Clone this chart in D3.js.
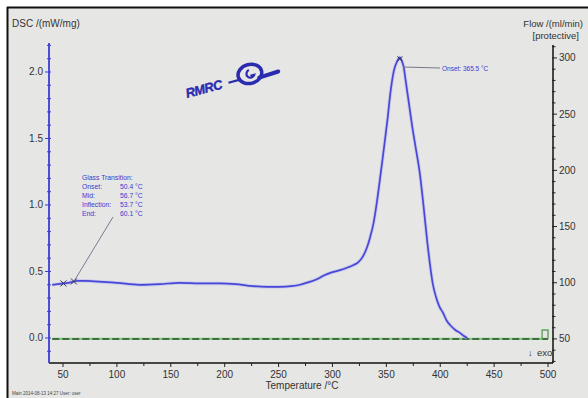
<!DOCTYPE html>
<html>
<head>
<meta charset="utf-8">
<script src="https://cdn.jsdelivr.net/npm/d3@7"></script>
<style>
  html, body { margin: 0; padding: 0; background: #ffffff; }
  svg { display: block; }
  text { font-family: "Liberation Sans", Arial, sans-serif; }
</style>
</head>
<body>
<svg id="chart" width="588" height="398"></svg>
<script>
// DSC heat-flow curve (mW/mg) against temperature (°C)
const dscTemp = [40, 45, 50, 55, 60, 63, 70, 80, 100, 121, 140, 158, 180, 196, 210, 226, 240, 251, 262, 270,
  278, 285, 292, 298, 307, 314, 320, 324, 328, 332, 335, 338, 341, 344, 347, 351, 354, 357, 360, 362.5,
  364, 366, 368, 371, 374, 377, 381, 384, 388, 391, 393, 396, 399, 402.5, 406, 410, 414, 418, 422, 425];
const dscValue = [0.40, 0.405, 0.41, 0.415, 0.425, 0.43, 0.43, 0.425, 0.415, 0.40, 0.405, 0.415, 0.41, 0.41, 0.405, 0.39, 0.385, 0.385, 0.39, 0.40,
  0.42, 0.44, 0.47, 0.49, 0.51, 0.53, 0.55, 0.57, 0.61, 0.68, 0.76, 0.86, 1.01, 1.19, 1.38, 1.64, 1.86, 2.01, 2.08, 2.11,
  2.09, 2.04, 1.93, 1.76, 1.59, 1.44, 1.24, 1.03, 0.72, 0.52, 0.41, 0.31, 0.24, 0.19, 0.13, 0.09, 0.06, 0.04, 0.015, 0.0];

// Protective gas flow (ml/min)
const flowTemp = [40, 500];
const flowValue = [50, 50];
const flowEndTemp = [494.5, 494.5, 500, 500];
const flowEndValue = [50, 58, 58, 50];

// Axis ticks
const tempTicks = [50, 100, 150, 200, 250, 300, 350, 400, 450, 500];
const dscTicks = [0.0, 0.5, 1.0, 1.5, 2.0];
const flowTicks = [50, 100, 150, 200, 250, 300];

// Evaluation results
const glassLabels = ["Onset:", "Mid:", "Inflection:", "End:"];
const glassValues = [50.4, 56.7, 53.7, 60.1];
const peakOnset = 365.5;

const svg = d3.select("#chart");
const W = 588, H = 398;

// panel background and frame
svg.append("rect").attr("x", 8).attr("y", 8).attr("width", W - 8).attr("height", H - 8).attr("fill", "#e6e6e4");
svg.append("line").attr("x1", 7).attr("x2", W).attr("y1", 7.5).attr("y2", 7.5).attr("stroke", "#111").attr("stroke-width", 2);
svg.append("line").attr("x1", 7.5).attr("x2", 7.5).attr("y1", 7).attr("y2", H).attr("stroke", "#111").attr("stroke-width", 2);

const plotL = 49, plotR = 553, plotT = 43, plotB = 363;
const x = d3.scaleLinear().domain([37, 504.6]).range([plotL, plotR]);
const y = d3.scaleLinear().domain([-0.188, 2.218]).range([plotB, plotT]);
const yFlow = d3.scaleLinear().domain([28.6, 313.3]).range([plotB, plotT]);

const tickFont = "10px";
const labelColor = "#333";

// bottom axis
const xAxis = svg.append("g").attr("transform", `translate(0,${plotB})`);
xAxis.append("line").attr("x1", plotL).attr("x2", plotR).attr("stroke", "#111").attr("stroke-width", 1.5);
xAxis.selectAll(".minor").data(d3.range(50, 501, 25)).join("line")
  .attr("x1", d => x(d)).attr("x2", d => x(d)).attr("y1", 0).attr("y2", d => d % 50 === 0 ? 4 : 3)
  .attr("stroke", "#222").attr("stroke-width", 1);
xAxis.selectAll("text").data(tempTicks).join("text")
  .attr("x", d => x(d)).attr("y", 15).attr("text-anchor", "middle")
  .attr("font-size", tickFont).attr("fill", labelColor).text(d => d);

// left axis (DSC)
const yAxis = svg.append("g");
yAxis.append("line").attr("x1", plotL).attr("x2", plotL).attr("y1", plotT).attr("y2", plotB)
  .attr("stroke", "#3c3cd8").attr("stroke-width", 1.8);
yAxis.selectAll(".minor").data(d3.range(-1, 23).map(d => d / 10)).join("line")
  .attr("x1", d => plotL - (Math.abs(d * 2 - Math.round(d * 2)) < 1e-6 ? 4 : 2)).attr("x2", plotL + 2)
  .attr("y1", d => y(d)).attr("y2", d => y(d)).attr("stroke", "#3c3cd8").attr("stroke-width", 1);
yAxis.selectAll("text").data(dscTicks).join("text")
  .attr("x", plotL - 6).attr("y", d => y(d) + 3.5).attr("text-anchor", "end")
  .attr("font-size", tickFont).attr("fill", labelColor).text(d => d.toFixed(1));

// right axis (flow)
const rAxis = svg.append("g");
rAxis.append("line").attr("x1", plotR).attr("x2", plotR).attr("y1", 45).attr("y2", plotB)
  .attr("stroke", "#111").attr("stroke-width", 1.5);
rAxis.selectAll(".minor").data(d3.range(30, 311, 10)).join("line")
  .attr("x1", plotR - 1).attr("x2", d => plotR + (d % 50 === 0 ? 4 : 2.5))
  .attr("y1", d => yFlow(d)).attr("y2", d => yFlow(d)).attr("stroke", "#222").attr("stroke-width", 1);
rAxis.selectAll("text").data(flowTicks).join("text")
  .attr("x", plotR + 6).attr("y", d => yFlow(d) + 3.5)
  .attr("font-size", tickFont).attr("fill", labelColor).text(d => d);

// axis titles
svg.append("text").attr("x", 12).attr("y", 27).attr("font-size", "10px").attr("fill", "#333").text("DSC /(mW/mg)");
svg.append("text").attr("x", 583).attr("y", 27).attr("text-anchor", "end").attr("font-size", "9.5px").attr("fill", "#333").text("Flow /(ml/min)");
svg.append("text").attr("x", 579).attr("y", 39).attr("text-anchor", "end").attr("font-size", "9.5px").attr("fill", "#333").text("[protective]");
svg.append("text").attr("x", 302).attr("y", 389).attr("text-anchor", "middle").attr("font-size", "10px").attr("fill", "#333").text("Temperature /°C");
svg.append("text").attr("x", 528).attr("y", 356).attr("font-size", "9px").attr("fill", "#333").text("↓");
svg.append("text").attr("x", 537).attr("y", 356).attr("font-size", "9.5px").attr("fill", "#333").text("exo");
svg.append("text").attr("x", 12).attr("y", 395).attr("font-size", "4.5px").attr("fill", "#444")
  .text("Main   2014-08-13 14:27      User: user");

// flow line: light green with dark dashes on top
const flowLine = d3.line().x(d => x(d[0])).y(d => yFlow(d[1]));
const flowPts = d3.zip(flowTemp, flowValue);
svg.append("path").attr("d", flowLine(flowPts)).attr("fill", "none").attr("stroke", "#7fcf7f").attr("stroke-width", 2.2);
svg.append("path").attr("d", flowLine(flowPts)).attr("fill", "none").attr("stroke", "#2f4f2f")
  .attr("stroke-width", 1.6).attr("stroke-dasharray", "7,3");
svg.append("path").attr("d", flowLine(d3.zip(flowEndTemp, flowEndValue))).attr("fill", "none")
  .attr("stroke", "#5fa05f").attr("stroke-width", 1.4);

// DSC curve
const dscLine = d3.line().x(d => x(d[0])).y(d => y(d[1])).curve(d3.curveMonotoneX);
const dscPts = d3.zip(dscTemp, dscValue);
svg.append("path").attr("d", dscLine(dscPts)).attr("fill", "none").attr("stroke", "#b8b8f0").attr("stroke-width", 3.5).attr("opacity", 0.6);
svg.append("path").attr("d", dscLine(dscPts)).attr("fill", "none").attr("stroke", "#4848d6").attr("stroke-width", 1.7);

// glass transition evaluation
const blue = "#3a3ad0";
const gx = 82, gy = 180;
svg.append("text").attr("x", gx).attr("y", gy).attr("font-size", "6.8px").attr("fill", blue).text("Glass Transition:");
glassLabels.forEach((lab, i) => {
  svg.append("text").attr("x", gx).attr("y", gy + 9 * (i + 1)).attr("font-size", "6.8px").attr("fill", blue).text(lab);
  svg.append("text").attr("x", gx + 38).attr("y", gy + 9 * (i + 1)).attr("font-size", "6.8px").attr("fill", blue)
    .text(glassValues[i].toFixed(1) + " °C");
});
const interp = t => {
  const i = d3.bisectLeft(dscTemp, t);
  if (i <= 0) return dscValue[0];
  const t0 = dscTemp[i - 1], t1 = dscTemp[i];
  return dscValue[i - 1] + (dscValue[i] - dscValue[i - 1]) * (t - t0) / (t1 - t0);
};
const gEnd = glassValues[3];
svg.append("line").attr("x1", 113).attr("y1", 217).attr("x2", x(gEnd)).attr("y2", y(interp(gEnd)))
  .attr("stroke", "#7a7a96").attr("stroke-width", 1);
[glassValues[0], glassValues[3]].forEach(t => {
  const cx = x(t), cy = y(interp(t));
  svg.append("path").attr("d", `M${cx - 3},${cy - 3}L${cx + 3},${cy + 3}M${cx - 3},${cy + 3}L${cx + 3},${cy - 3}`)
    .attr("stroke", "#333355").attr("stroke-width", 1);
});

// peak onset evaluation
const px = x(peakOnset), py = y(interp(peakOnset));
svg.append("line").attr("x1", px).attr("y1", py + 2).attr("x2", 440).attr("y2", py + 3)
  .attr("stroke", "#77778f").attr("stroke-width", 1);
const pk = dscValue.indexOf(d3.max(dscValue));
const pkx = x(dscTemp[pk]), pky = y(dscValue[pk]);
svg.append("path").attr("d", `M${pkx - 2.5},${pky - 1}L${pkx + 2.5},${pky + 4}M${pkx - 2.5},${pky + 4}L${pkx + 2.5},${pky - 1}`)
  .attr("stroke", "#333355").attr("stroke-width", 1);
svg.append("text").attr("x", 442).attr("y", py + 5.5).attr("font-size", "6.5px").attr("fill", blue)
  .text("Onset:  " + peakOnset.toFixed(1) + " °C");

// laboratory logo
const logo = svg.append("g").attr("transform", "translate(187,98) rotate(-15)");
const logoBlue = "#2b2bb0";
logo.append("text").attr("x", 0).attr("y", 0).attr("font-size", "13px").attr("font-weight", "bold")
  .attr("font-style", "italic").attr("fill", logoBlue).attr("stroke", logoBlue).attr("stroke-width", 0.4)
  .attr("letter-spacing", "-0.5").text("RMRC");
logo.append("line").attr("x1", 44).attr("y1", -4).attr("x2", 56).attr("y2", -4).attr("stroke", logoBlue).attr("stroke-width", 2.2);
logo.append("ellipse").attr("cx", 67).attr("cy", -7).attr("rx", 12).attr("ry", 9.5)
  .attr("fill", "none").attr("stroke", logoBlue).attr("stroke-width", 3.5);
logo.append("path").attr("d", "M67,-11 A4,4 0 1,0 71,-5 L67,-5").attr("fill", "none").attr("stroke", logoBlue).attr("stroke-width", 2.2);
logo.append("path").attr("d", "M75,-1 L95,-2").attr("stroke", logoBlue).attr("stroke-width", 4).attr("stroke-linecap", "round");
</script>
</body>
</html>
